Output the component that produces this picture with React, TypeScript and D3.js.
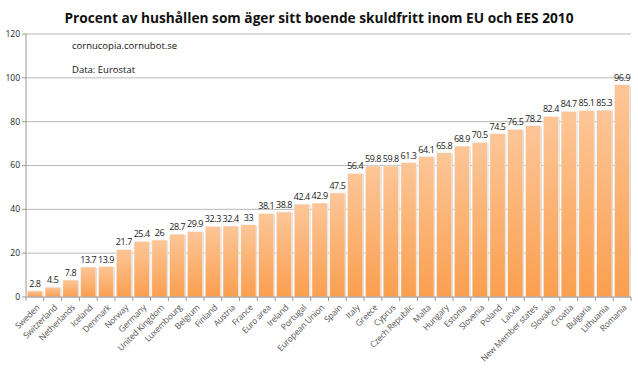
import React from "react";
import * as d3 from "d3";

const countries = [
  "Sweden", "Switzerland", "Netherlands", "Iceland", "Denmark", "Norway", "Germany",
  "United Kingdom", "Luxembourg", "Belgium", "Finland", "Austria", "France", "Euro area",
  "Ireland", "Portugal", "European Union", "Spain", "Italy", "Greece", "Cyprus",
  "Czech Republic", "Malta", "Hungary", "Estonia", "Slovenia", "Poland", "Latvia",
  "New Member states", "Slovakia", "Croatia", "Bulgaria", "Lithuania", "Romania",
];

const percent = [
  2.8, 4.5, 7.8, 13.7, 13.9, 21.7, 25.4, 26, 28.7, 29.9, 32.3, 32.4, 33, 38.1, 38.8,
  42.4, 42.9, 47.5, 56.4, 59.8, 59.8, 61.3, 64.1, 65.8, 68.9, 70.5, 74.5, 76.5, 78.2,
  82.4, 84.7, 85.1, 85.3, 96.9,
];

const yTicks = [0, 20, 40, 60, 80, 100, 120];

const title = "Procent av hushållen som äger sitt boende skuldfritt inom EU och EES 2010";
const notes = ["cornucopia.cornubot.se", "Data: Eurostat"];

const W = 638;
const H = 374;
const margin = { top: 34, right: 7, bottom: 77, left: 26 };
const font = "'Open Sans', 'DejaVu Sans', sans-serif";

export default function App() {
  const x = d3
    .scaleBand<string>()
    .domain(countries)
    .range([margin.left, W - margin.right])
    .paddingInner(0.14)
    .paddingOuter(0.07);

  const y = d3.scaleLinear().domain([0, 120]).range([H - margin.bottom, margin.top]);

  const step = x.step();
  const x0 = margin.left;
  const x1 = W - margin.right;
  const base = y(0);

  return (
    <svg
      width={W}
      height={H}
      style={{ position: "absolute", left: 0, top: 0, background: "#fff" }}
      fontFamily={font}
    >
      <defs>
        <linearGradient id="barFill" x1="0" y1="0" x2="0" y2="1">
          <stop offset="0%" stopColor="#fdc698" />
          <stop offset="100%" stopColor="#fa9f4f" />
        </linearGradient>
      </defs>

      <text
        x={W / 2}
        y={23}
        textAnchor="middle"
        fontSize={15}
        fontWeight="bold"
        fill="#111"
        textLength={509}
        lengthAdjust="spacingAndGlyphs"
      >
        {title}
      </text>

      {/* grid + y axis */}
      {yTicks.map((t) => (
        <g key={t}>
          {t > 0 && (
            <line x1={x0} x2={x1} y1={y(t)} y2={y(t)} stroke="#b8b8b8" strokeWidth={1} />
          )}
          <line x1={x0 - 4} x2={x0} y1={y(t)} y2={y(t)} stroke="#9a9a9a" />
          <text x={x0 - 6} y={y(t)} dy="0.35em" textAnchor="end" fontSize={8.5} fill="#222">
            {t}
          </text>
        </g>
      ))}
      <line x1={x0} x2={x0} y1={margin.top} y2={base} stroke="#9a9a9a" />

      {notes.map((n, i) => (
        <text key={n} x={72} y={49 + i * 24} fontSize={9.5} fill="#111">
          {n}
        </text>
      ))}

      {/* bars */}
      {countries.map((c, i) => (
        <g key={c}>
          <rect
            x={x(c)! + 1}
            y={y(percent[i]) + 1}
            width={x.bandwidth()}
            height={base - y(percent[i])}
            fill="#d6d6d6"
          />
          <rect
            x={x(c)!}
            y={y(percent[i])}
            width={x.bandwidth()}
            height={base - y(percent[i])}
            fill="url(#barFill)"
            stroke="#f4f4f4"
            strokeWidth={0.6}
          />
          <text
            x={x(c)! + x.bandwidth() / 2}
            y={y(percent[i]) - 4}
            textAnchor="middle"
            fontSize={9}
            letterSpacing={-0.45}
            fill="#1a1a1a"
          >
            {percent[i]}
          </text>
        </g>
      ))}

      {/* x axis */}
      <line x1={x0} x2={x1} y1={base} y2={base} stroke="#9a9a9a" />
      {d3.range(countries.length + 1).map((k) => (
        <line
          key={k}
          x1={x0 + k * step}
          x2={x0 + k * step}
          y1={base}
          y2={base + 4}
          stroke="#9a9a9a"
        />
      ))}
      {countries.map((c) => {
        const cx = x(c)! + x.bandwidth() / 2 + 3;
        const cy = base + 9;
        return (
          <text
            key={c}
            transform={`translate(${cx},${cy}) rotate(-45)`}
            textAnchor="end"
            fontSize={8.5}
            letterSpacing={-0.2}
            fill="#555"
            dy="0.35em"
          >
            {c}
          </text>
        );
      })}
    </svg>
  );
}
